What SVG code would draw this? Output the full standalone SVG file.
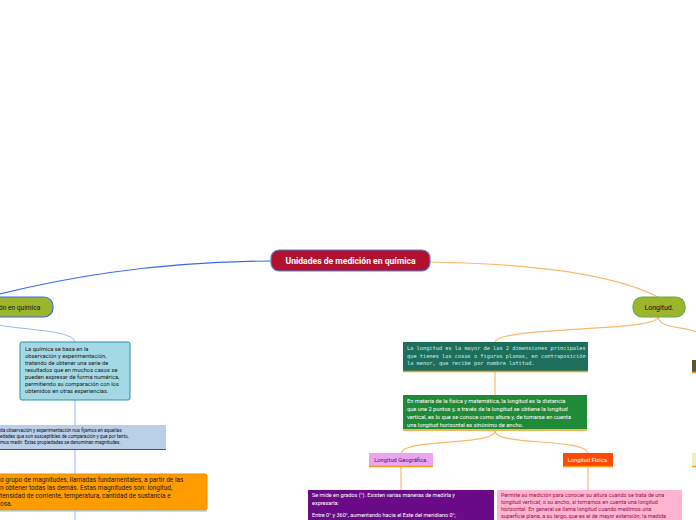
<svg xmlns="http://www.w3.org/2000/svg" width="696" height="520" viewBox="0 0 696 520">
<style>
.t{font-family:Roboto,"Liberation Sans",Arial,sans-serif;}
.lb{fill:none;stroke:#3b6cf0;stroke-width:1.2}
.lbl{fill:none;stroke:#9cb6ee;stroke-width:1}
.lo{fill:none;stroke:#fbb86a;stroke-width:1.2}
.ul{stroke:#f59a1b;stroke-width:1.5}
</style>
<rect width="696" height="520" fill="#ffffff"/>
<g id="connectors">
<path class="lb" d="M271,261 C150,262 60,278 -20,299"/>
<path class="lbl" d="M-20,317 C-10,332 72,326 75,342"/>
<path class="lbl" d="M75,400 L75,425"/>
<path class="lbl" d="M75,450 L75,474"/>
<path class="lbl" d="M75,511 L75,520"/>
<path class="lo" d="M430,262 C560,264 625,280 658,297"/>
<path class="lo" d="M658,317 C658,332 500,326 495,342"/>
<path class="lo" d="M658,317 C660,330 690,326 700,334"/>
<path class="lo" d="M495,372 L495,395"/>
<path class="lo" d="M495,431 C495,446 405,438 401,453"/>
<path class="lo" d="M495,431 C495,446 585,438 588,453"/>
<path class="lo" d="M401,467 L401,490"/>
<path class="lo" d="M588,467 L588,490"/>
</g>
<g id="central">
<rect x="271" y="250" width="159" height="21" rx="8" fill="#b1102e" stroke="#4a86d8" stroke-width="1.2"/>
<text class="t" x="350.5" y="264" font-size="8.6" font-weight="bold" fill="#ffffff" text-anchor="middle">Unidades de medición en química</text>
</g>
<g id="left-node">
<rect x="-40" y="297" width="93" height="20" rx="9" fill="#9cb52c" stroke="#3b6cf0" stroke-width="1.2"/>
<text class="t" x="-1" y="310" font-size="6.6" fill="#111111">ón en química</text>
</g>
<g id="quimica-box">
<rect x="20" y="342" width="110" height="58" rx="2" fill="#a3d9e5" stroke="#2f8fa3" stroke-width="1"/>
<text class="t" font-size="5.8" fill="#1a1a1a">
<tspan x="25" y="351">La química se basa en la</tspan>
<tspan x="25" y="358">observación y experimentación,</tspan>
<tspan x="25" y="365">tratando de obtener una serie de</tspan>
<tspan x="25" y="372">resultados que en muchos casos se</tspan>
<tspan x="25" y="379">pueden expresar de forma numérica,</tspan>
<tspan x="25" y="386">permitiendo su comparación con los</tspan>
<tspan x="25" y="393">obtenidos en otras experiencias.</tspan>
</text>
</g>
<g id="magnitudes-box">
<rect x="-5" y="425" width="171" height="24" fill="#bacfe8"/>
<line x1="-5" y1="449.5" x2="166" y2="449.5" stroke="#2a4fc8" stroke-width="1.2"/>
<text class="t" font-size="4.7" fill="#111111">
<tspan x="0" y="432">da observación y experimentación nos fijamos en aquellas</tspan>
<tspan x="0" y="438">edades que son susceptibles de comparación y que por tanto,</tspan>
<tspan x="0" y="444">mos medir. Estas propiedades se denominan magnitudes.</tspan>
</text>
</g>
<g id="fundamentales-box">
<rect x="-5" y="474" width="212" height="36" rx="2" fill="#ff9c00" stroke="#f08a00" stroke-width="1"/>
<line x1="-5" y1="511" x2="207" y2="511" stroke="#7fc6d6" stroke-width="1.2"/>
<text class="t" font-size="6.5" fill="#1a1a1a">
<tspan x="0" y="482">o grupo de magnitudes, llamadas fundamentales, a partir de las</tspan>
<tspan x="0" y="490">n obtener todas las demás. Estas magnitudes son: longitud,</tspan>
<tspan x="0" y="498">tensidad de corriente, temperatura, cantidad de sustancia e</tspan>
<tspan x="0" y="506">osa.</tspan>
</text>
</g>
<g id="longitud">
<rect x="633" y="297" width="52" height="20" rx="9" fill="#9cb52c" stroke="#5fae50" stroke-width="1.2"/>
<text class="t" x="659" y="310" font-size="7" fill="#111111" text-anchor="middle">Longitud.</text>
</g>
<g id="def-box">
<rect x="403" y="342" width="185" height="29" fill="#1e6e5c"/>
<line x1="403" y1="371.5" x2="588" y2="371.5" class="ul"/>
<text font-family="'DejaVu Sans Mono',monospace" font-size="5.3" fill="#d8efe6">
<tspan x="407" y="350">La longitud es la mayor de las 2 dimensiones principales</tspan>
<tspan x="407" y="357.5">que tienes las cosas o figuras planas, en contraposición a</tspan>
<tspan x="407" y="365">la menor, que recibe por nombre latitud.</tspan>
</text>
</g>
<g id="fisica-box">
<rect x="403" y="395" width="184" height="34" fill="#1f8a38"/>
<line x1="403" y1="430" x2="587" y2="430" class="ul"/>
<text class="t" font-size="5.7" fill="#ffffff">
<tspan x="407" y="403">En materia de la física y matemática, la longitud es la distancia</tspan>
<tspan x="407" y="411">que une 2 puntos y, a través de la longitud se obtiene la longitud</tspan>
<tspan x="407" y="419">vertical, es lo que se conoce como altura y, de tomarse en cuenta</tspan>
<tspan x="407" y="427">una longitud horizontal es sinónimo de ancho.</tspan>
</text>
</g>
<g id="geografica">
<rect x="369" y="453" width="64" height="13" fill="#eba4f2"/>
<line x1="369" y1="466.5" x2="433" y2="466.5" class="ul"/>
<text class="t" x="401" y="462" font-size="5.8" fill="#4a1a55" text-anchor="middle">Longitud Geográfica.</text>
</g>
<g id="fisica">
<rect x="563" y="453" width="50" height="13" fill="#ff4a05"/>
<line x1="563" y1="466.5" x2="613" y2="466.5" class="ul"/>
<text class="t" x="588" y="462" font-size="5.8" fill="#ffffff" text-anchor="middle">Longitud Física.</text>
</g>
<g id="geo-box">
<rect x="308" y="490" width="186" height="35" fill="#6a0a86"/>
<text class="t" font-size="5.5" fill="#ffffff">
<tspan x="312" y="497">Se mide en grados (°). Existen varias maneras de medirla y</tspan>
<tspan x="312" y="505">expresarla:</tspan>
<tspan x="312" y="517">Entre 0° y 360°, aumentando hacia el Este del meridiano 0°;</tspan>
</text>
</g>
<g id="fis-box">
<rect x="497" y="490" width="185" height="35" fill="#ffb5d2"/>
<text class="t" font-size="5.5" fill="#9b1040">
<tspan x="501" y="497">Permite su medición para conocer su altura cuando se trata de una</tspan>
<tspan x="501" y="504">longitud vertical; o su ancho, si tomamos en cuenta una longitud</tspan>
<tspan x="501" y="511">horizontal. En general se llama longitud cuando medimos una</tspan>
<tspan x="501" y="518">superficie plana, a su largo, que es el de mayor extensión; la medida</tspan>
</text>
</g>
<g id="edge-node-1">
<rect x="692" y="360" width="6" height="12" fill="#5a5a26"/>
<line x1="692" y1="372.5" x2="698" y2="372.5" class="ul"/>
</g>
<g id="edge-node-2">
<rect x="692" y="453" width="6" height="13" fill="#f3efb8"/>
<line x1="692" y1="466.5" x2="698" y2="466.5" class="ul"/>
</g>
</svg>
